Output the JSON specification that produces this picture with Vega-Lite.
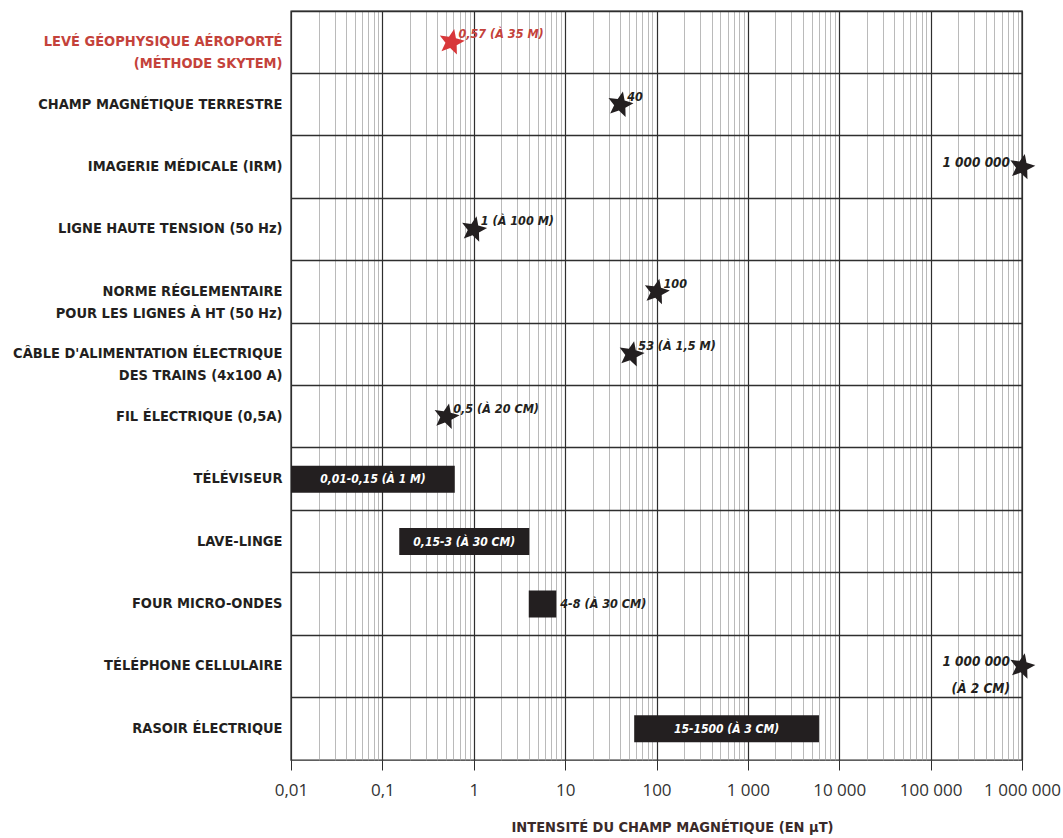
{
  "$schema": "https://vega.github.io/schema/vega-lite/v6.json",
  "width": 731,
  "height": 749,
  "autosize": "none",
  "padding": {"left": 291, "top": 11, "right": 41, "bottom": 78},
  "background": "white",
  "config": {
    "view": {"stroke": "#2a2a2a", "strokeWidth": 1.4},
    "font": "DejaVu Sans Condensed, DejaVu Sans, sans-serif"
  },
  "datasets": {
    "stars": [
      {"cat": "LEVÉ GÉOPHYSIQUE AÉROPORTÉ\n(MÉTHODE SKYTEM)", "v": 0.57, "label": "0,57 (À 35 M)", "side": "right"},
      {"cat": "CHAMP MAGNÉTIQUE TERRESTRE", "v": 40, "label": "40", "side": "right"},
      {"cat": "IMAGERIE MÉDICALE (IRM)", "v": 1000000, "label": "1 000 000", "side": "left"},
      {"cat": "LIGNE HAUTE TENSION (50 Hz)", "v": 1, "label": "1 (À 100 M)", "side": "right"},
      {"cat": "NORME RÉGLEMENTAIRE\nPOUR LES LIGNES À HT (50 Hz)", "v": 100, "label": "100", "side": "right"},
      {"cat": "CÂBLE D'ALIMENTATION ÉLECTRIQUE\nDES TRAINS (4x100 A)", "v": 53, "label": "53 (À 1,5 M)", "side": "right"},
      {"cat": "FIL ÉLECTRIQUE (0,5A)", "v": 0.5, "label": "0,5 (À 20 CM)", "side": "right"},
      {"cat": "TÉLÉPHONE CELLULAIRE", "v": 1000000, "label": "1 000 000\n(À 2 CM)", "side": "left"}
    ],
    "bars": [
      {"cat": "TÉLÉVISEUR", "lo": 0.01, "hi": 0.62, "label": "0,01-0,15 (À 1 M)", "inside": true},
      {"cat": "LAVE-LINGE", "lo": 0.153, "hi": 4.05, "label": "0,15-3 (À 30 CM)", "inside": true},
      {"cat": "FOUR MICRO-ONDES", "lo": 4, "hi": 8, "label": "4-8 (À 30 CM)", "inside": false},
      {"cat": "RASOIR ÉLECTRIQUE", "lo": 57, "hi": 6000, "label": "15-1500 (À 3 CM)", "inside": true}
    ]
  },
  "layer": [
    {
      "data": {"name": "bars"},
      "mark": {"type": "bar", "color": "#231f20", "height": 27},
      "encoding": {
        "x": {
          "field": "lo", "type": "quantitative",
          "scale": {"type": "log", "domain": [0.01, 1000000]},
          "axis": {
            "values": [0.01,0.02,0.03,0.04,0.05,0.06,0.07,0.08,0.09,0.1,0.2,0.3,0.4,0.5,0.6,0.7,0.8,0.9,1,2,3,4,5,6,7,8,9,10,20,30,40,50,60,70,80,90,100,200,300,400,500,600,700,800,900,1000,2000,3000,4000,5000,6000,7000,8000,9000,10000,20000,30000,40000,50000,60000,70000,80000,90000,100000,200000,300000,400000,500000,600000,700000,800000,900000,1000000],
            "labelExpr": "datum.value == 0.01 ? '0,01' : datum.value == 0.1 ? '0,1' : datum.value == 1 ? '1' : datum.value == 10 ? '10' : datum.value == 100 ? '100' : datum.value == 1000 ? '1 000' : datum.value == 10000 ? '10 000' : datum.value == 100000 ? '100 000' : datum.value == 1000000 ? '1 000 000' : ''",
            "grid": true,
            "gridColor": {"condition": {"test": "indexof([0.01,0.1,1,10,100,1000,10000,100000,1000000], datum.value) >= 0", "value": "#2e2e2e"}, "value": "#9c9c9c"},
            "gridWidth": {"condition": {"test": "indexof([0.01,0.1,1,10,100,1000,10000,100000,1000000], datum.value) >= 0", "value": 1.2}, "value": 0.7},
            "tickColor": "#2e2e2e",
            "tickSize": 10,
            "tickOpacity": {"condition": {"test": "indexof([0.01,0.1,1,10,100,1000,10000,100000,1000000], datum.value) >= 0", "value": 1}, "value": 0},
            "domain": false,
            "labelFont": "Open Sans",
            "labelFontSize": 17,
            "labelColor": "#333333",
            "labelPadding": 12,
            "labelOverlap": false,
            "labelFlush": false,
            "title": "INTENSITÉ DU CHAMP MAGNÉTIQUE (EN µT)",
            "titleFont": "DejaVu Sans Condensed, DejaVu Sans, sans-serif",
            "titleFontSize": 14.5,
            "titleFontWeight": "bold",
            "titleColor": "#3a2a2a",
            "titlePadding": 22,
            "titleX": 381,
            "titleAlign": "center",
            "titleAnchor": "start"
          }
        },
        "x2": {"field": "hi"},
        "y": {
          "field": "cat", "type": "nominal",
          "scale": {"domain": ["LEVÉ GÉOPHYSIQUE AÉROPORTÉ\n(MÉTHODE SKYTEM)", "CHAMP MAGNÉTIQUE TERRESTRE", "IMAGERIE MÉDICALE (IRM)", "LIGNE HAUTE TENSION (50 Hz)", "NORME RÉGLEMENTAIRE\nPOUR LES LIGNES À HT (50 Hz)", "CÂBLE D'ALIMENTATION ÉLECTRIQUE\nDES TRAINS (4x100 A)", "FIL ÉLECTRIQUE (0,5A)", "TÉLÉVISEUR", "LAVE-LINGE", "FOUR MICRO-ONDES", "TÉLÉPHONE CELLULAIRE", "RASOIR ÉLECTRIQUE"], "paddingInner": 0, "paddingOuter": 0},
          "axis": {
            "orient": "left",
            "title": null,
            "grid": false,
            "domain": false,
            "ticks": false,
            "labelExpr": "split(datum.label, '\\n')",
            "labelFont": "DejaVu Sans Condensed, DejaVu Sans, sans-serif",
            "labelFontSize": 14.5,
            "labelFontWeight": "bold",
            "labelColor": {"condition": {"test": "indexof(datum.value, 'SKYTEM') >= 0", "value": "#c4423b"}, "value": "#231f20"},
            "labelLineHeight": 22,
            "labelPadding": 9,
            "labelLimit": 300
          }
        }
      }
    },
    {
      "data": {"name": "bars"},
      "transform": [{"filter": "datum.inside"}, {"calculate": "sqrt(datum.lo * datum.hi)", "as": "mid"}],
      "mark": {"type": "text", "color": "white", "fontSize": 12, "fontStyle": "italic", "fontWeight": "bold", "align": "center", "baseline": "middle"},
      "encoding": {
        "x": {"field": "mid", "type": "quantitative", "axis": null},
        "y": {"field": "cat", "type": "nominal", "axis": null},
        "text": {"field": "label"}
      }
    },
    {
      "data": {"name": "bars"},
      "transform": [{"filter": "!datum.inside"}],
      "mark": {"type": "text", "color": "#231f20", "fontSize": 12.5, "fontStyle": "italic", "fontWeight": "bold", "align": "left", "baseline": "middle", "dx": 4},
      "encoding": {
        "x": {"field": "hi", "type": "quantitative", "axis": null},
        "y": {"field": "cat", "type": "nominal", "axis": null},
        "text": {"field": "label"}
      }
    },
    {
      "data": {"name": "stars"},
      "mark": {"type": "point", "filled": true, "opacity": 1, "size": 720, "angle": 12, "shape": "M0,-1L0.265,-0.364L0.951,-0.309L0.428,0.139L0.588,0.809L0,0.45L-0.588,0.809L-0.428,0.139L-0.951,-0.309L-0.265,-0.364Z"},
      "encoding": {
        "x": {"field": "v", "type": "quantitative", "axis": null},
        "y": {
          "field": "cat", "type": "nominal",
          "axis": {"orient": "right", "title": null, "labels": false, "ticks": false, "domain": false, "grid": true, "gridColor": "#2e2e2e", "gridWidth": 1.6, "bandPosition": 0}
        },
        "color": {"condition": {"test": "indexof(datum.cat, 'SKYTEM') >= 0", "value": "#d8383a"}, "value": "#231f20"}
      }
    },
    {
      "data": {"name": "stars"},
      "transform": [{"filter": "datum.side == 'right'"}],
      "mark": {"type": "text", "fontSize": 12.5, "fontStyle": "italic", "fontWeight": "bold", "align": "left", "baseline": "middle", "dx": 7, "dy": -8},
      "encoding": {
        "x": {"field": "v", "type": "quantitative", "axis": null},
        "y": {"field": "cat", "type": "nominal", "axis": null},
        "text": {"field": "label"},
        "color": {"condition": {"test": "indexof(datum.cat, 'SKYTEM') >= 0", "value": "#c4423b"}, "value": "#231f20"}
      }
    },
    {
      "data": {"name": "stars"},
      "transform": [{"filter": "datum.side == 'left'"}],
      "mark": {"type": "text", "fontSize": 13.5, "fontStyle": "italic", "fontWeight": "bold", "align": "right", "baseline": "middle", "dx": -12, "dy": -4, "lineBreak": "\n", "lineHeight": 27, "color": "#231f20"},
      "encoding": {
        "x": {"field": "v", "type": "quantitative", "axis": null},
        "y": {"field": "cat", "type": "nominal", "axis": null},
        "text": {"field": "label"}
      }
    }
  ],
  "resolve": {"axis": {"x": "independent", "y": "independent"}}
}
